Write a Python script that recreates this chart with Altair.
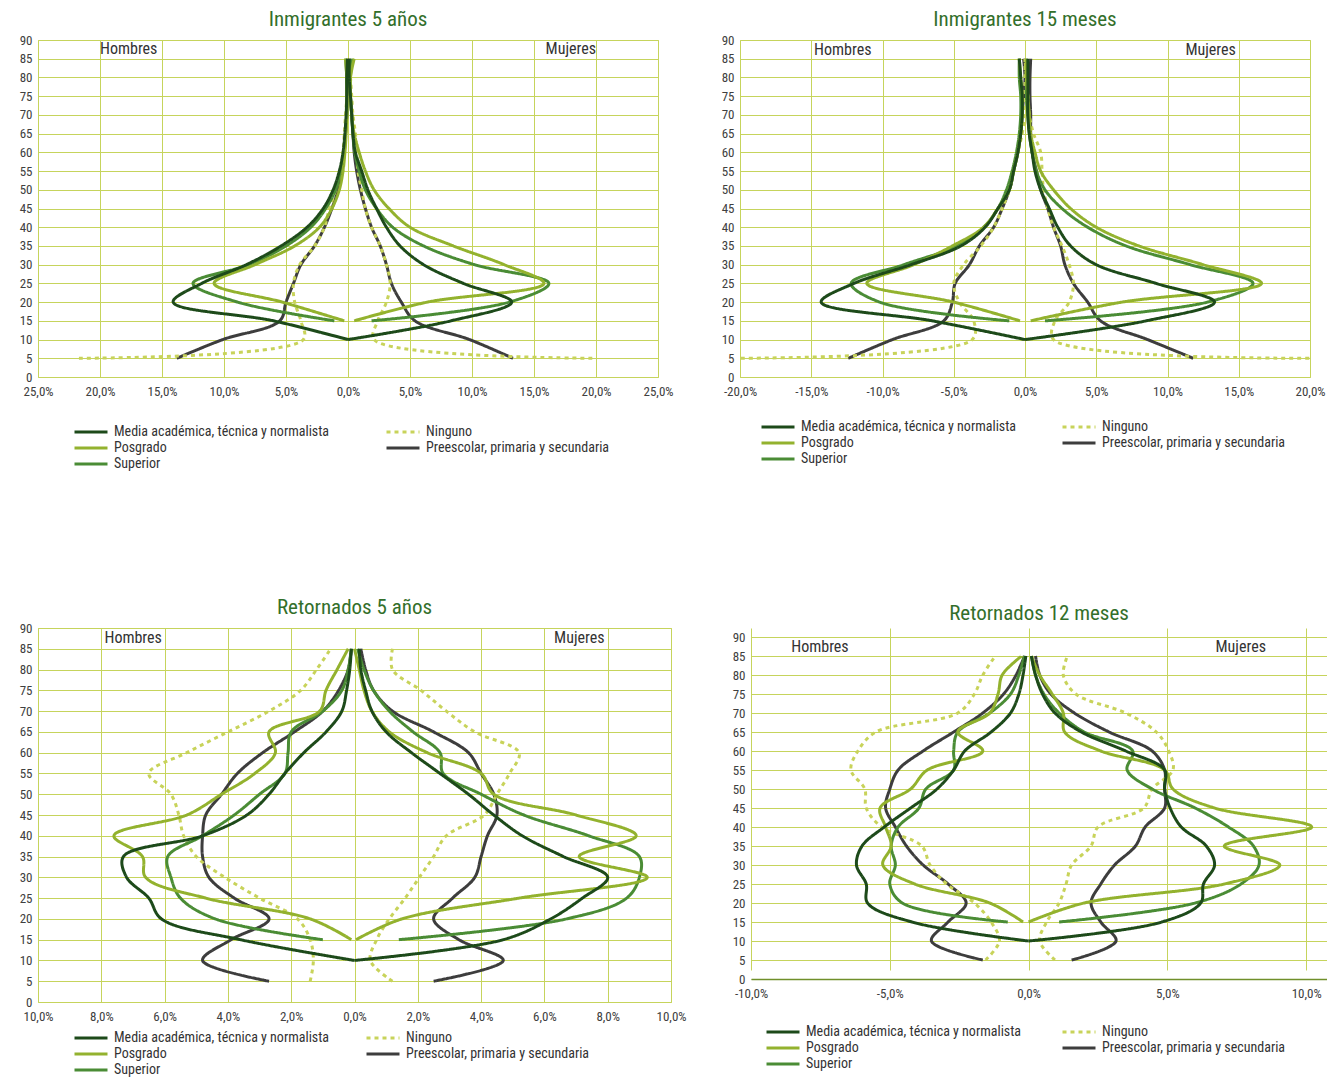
import altair as alt
import pandas as pd

FONT = "'Roboto Condensed', 'Open Sans Condensed', 'Liberation Sans Narrow', 'Liberation Sans', Arial, sans-serif"

CATS = ["Media académica, técnica y normalista", "Posgrado", "Superior", "Ninguno",
        "Preescolar, primaria y secundaria"]
COLORS = ["#1d4a1a", "#93b22e", "#4a8c35", "#c8d35a", "#3d3d3d"]
DASHES = [[1, 0], [1, 0], [1, 0], [4, 4], [1, 0]]
WIDTHS = [3.0, 3.0, 3.0, 3.2, 2.2]

AGES_MEDIA = [10, 15, 20, 25, 30, 35, 40, 45, 50, 55, 60, 65, 70, 75, 80, 85]
AGES_SUP = [15, 20, 25, 30, 35, 40, 45, 50, 55, 60, 65, 70, 75, 80, 85]
AGES_BASE = [5, 10, 15, 20, 25, 30, 35, 40, 45, 50, 55, 60, 65, 70, 75, 80, 85]

# ---------------- Inmigrantes 5 años ----------------
i5_media_h = [0, -6.0, -14.1, -11.8, -8.2, -5.4, -3.3, -2.0, -1.2, -0.7, -0.4, -0.25, -0.15, -0.1, -0.1, -0.05]
i5_media_m = [0, 8.3, 13.2, 9.3, 6.1, 4.2, 3.1, 2.3, 1.6, 1.1, 0.6, 0.4, 0.3, 0.2, 0.1, 0.1]
i5_pre_h = [-13.8, -10.1, -5.5, -5.0, -4.4, -3.8, -2.7, -1.9, -1.3, -0.8, -0.5, -0.3, -0.2, -0.1, -0.1, 0, 0]
i5_pre_m = [13.3, 9.8, 5.4, 4.3, 3.5, 3.1, 2.6, 1.9, 1.4, 1.0, 0.7, 0.5, 0.4, 0.3, 0.2, 0.1, 0.1]
i5_nin_h = [-21.7, -3.6, -3.8, -4.3, -4.4, -3.9, -2.7, -1.9, -1.5, -1.0, -0.6, -0.4, -0.3, -0.2, -0.1, -0.1, 0]
i5_nin_m = [19.7, 2.1, 2.4, 3.1, 3.4, 3.1, 2.6, 1.9, 1.4, 1.1, 0.8, 0.7, 0.6, 0.4, 0.3, 0.2, 0.1]
i5_pos_h = [-0.3, -5.3, -10.8, -7.5, -4.3, -2.3, -1.3, -0.7, -0.4, -0.25, -0.15, -0.1, -0.1, -0.1, -0.2]
i5_pos_m = [0.5, 6.4, 15.8, 12.6, 8.5, 5.0, 3.3, 2.1, 1.4, 0.9, 0.5, 0.3, 0.2, 0.2, 0.5]
i5_sup_h = [-1.1, -8.9, -12.5, -8.0, -5.0, -3.0, -1.8, -1.0, -0.6, -0.35, -0.2, -0.1, -0.1, -0.1, -0.2]
i5_sup_m = [1.9, 13.0, 16.2, 10.2, 6.1, 3.6, 2.3, 1.4, 0.9, 0.55, 0.4, 0.3, 0.2, 0.2, 0.3]

# ---------------- Inmigrantes 15 meses ----------------
i15_media_h = [0, -6.5, -14.3, -12.0, -8.0, -4.5, -2.8, -1.9, -1.1, -0.8, -0.5, -0.3, -0.2, -0.2, -0.3, -0.4]
i15_media_m = [0, 8.5, 13.3, 9.2, 5.0, 3.2, 2.3, 1.7, 1.1, 0.7, 0.5, 0.3, 0.2, 0.2, 0.2, 0.2]
i15_pre_h = [-12.4, -9.3, -5.7, -5.1, -4.9, -3.9, -3.2, -2.2, -1.6, -1.1, -0.8, -0.5, -0.3, -0.2, -0.1, 0, -0.1]
i15_pre_m = [11.8, 8.6, 5.3, 4.4, 3.4, 2.8, 2.5, 2.0, 1.6, 1.1, 0.8, 0.5, 0.4, 0.4, 0.35, 0.35, 0.4]
i15_nin_h = [-20.5, -3.7, -3.6, -4.6, -5.0, -4.3, -3.1, -2.2, -1.6, -1.1, -0.8, -0.5, -0.2, 0, 0, 0, 0]
i15_nin_m = [20.5, 2.0, 2.1, 3.1, 3.4, 3.1, 2.6, 2.0, 1.6, 1.3, 1.2, 1.1, 0.6, 0.3, 0.2, 0.1, 0]
i15_pos_h = [-0.35, -5.0, -11.1, -7.8, -5.1, -2.9, -1.9, -1.1, -0.8, -0.5, -0.3, -0.2, -0.2, -0.3, -0.4]
i15_pos_m = [0.4, 6.8, 16.6, 12.5, 8.0, 5.0, 3.2, 2.0, 1.1, 0.7, 0.4, 0.3, 0.2, 0.1, 0.1]
i15_sup_h = [-1.1, -10.2, -12.2, -8.5, -4.8, -2.9, -1.9, -1.3, -0.9, -0.6, -0.4, -0.3, -0.3, -0.4, -0.4]
i15_sup_m = [1.4, 12.8, 16.0, 11.6, 7.1, 4.4, 2.6, 1.4, 0.8, 0.5, 0.3, 0.2, 0.1, 0.1, 0.1]

# ---------------- Retornados 5 años ----------------
r5_media_h = [0, -3.6, -6.1, -6.5, -7.2, -7.3, -4.8, -3.4, -2.7, -2.2, -1.6, -0.9, -0.4, -0.25, -0.15, -0.1]
r5_media_m = [0, 4.7, 6.2, 7.2, 8.0, 6.6, 5.3, 4.4, 3.6, 2.7, 1.8, 1.0, 0.55, 0.35, 0.2, 0.15]
r5_pre_h = [-2.7, -4.8, -3.9, -2.7, -3.8, -4.6, -4.8, -4.8, -4.7, -4.2, -3.7, -2.9, -1.9, -1.0, -0.5, -0.2, -0.1]
r5_pre_m = [2.5, 4.7, 3.3, 2.5, 3.1, 3.8, 4.0, 4.2, 4.5, 4.4, 4.0, 3.6, 2.5, 1.2, 0.6, 0.35, 0.2]
r5_nin_h = [-1.4, -1.3, -1.4, -1.8, -3.0, -4.1, -5.0, -5.4, -5.55, -5.8, -6.5, -5.3, -4.0, -2.7, -1.7, -1.2, -0.75]
r5_nin_m = [1.2, 0.5, 0.7, 1.1, 1.6, 2.05, 2.5, 2.9, 4.1, 4.5, 4.9, 5.2, 3.8, 2.9, 2.1, 1.2, 1.2]
r5_pos_h = [-0.1, -1.4, -4.7, -6.6, -6.7, -7.6, -5.3, -4.2, -3.15, -2.5, -2.7, -1.1, -0.9, -0.55, -0.2]
r5_pos_m = [0.05, 1.5, 5.2, 9.25, 7.1, 8.9, 7.0, 4.4, 4.0, 2.3, 1.1, 0.55, 0.3, 0.15, 0.0]
r5_sup_h = [-1.0, -4.4, -5.5, -5.8, -5.9, -4.8, -3.8, -3.0, -2.2, -2.1, -2.0, -1.0, -0.4, -0.2, -0.1]
r5_sup_m = [1.4, 6.7, 8.6, 9.0, 9.0, 7.4, 5.35, 4.0, 2.8, 2.7, 1.85, 1.1, 0.6, 0.3, 0.1]

# ---------------- Retornados 12 meses ----------------
r12_media_h = [0, -4.2, -5.8, -5.85, -6.2, -6.0, -5.2, -4.25, -3.3, -2.7, -2.3, -1.35, -0.65, -0.35, -0.2, -0.1]
r12_media_m = [0, 4.8, 6.2, 6.3, 6.7, 6.4, 5.5, 5.1, 4.9, 4.9, 3.5, 1.9, 0.95, 0.5, 0.25, 0.1]
r12_pre_h = [-1.65, -3.5, -2.9, -2.25, -2.9, -3.8, -4.4, -4.8, -5.15, -5.0, -4.7, -3.8, -2.7, -1.65, -0.9, -0.45, -0.15]
r12_pre_m = [1.55, 3.15, 2.6, 2.25, 2.6, 3.1, 3.85, 4.2, 4.9, 4.9, 4.9, 4.45, 2.9, 1.65, 0.8, 0.4, 0.25]
r12_nin_h = [-1.55, -1.05, -1.35, -1.95, -2.95, -3.55, -3.85, -5.3, -5.85, -5.9, -6.4, -6.15, -5.5, -2.55, -1.95, -1.65, -1.2]
r12_nin_m = [0.95, 0.4, 0.65, 1.1, 1.35, 1.55, 2.25, 2.5, 4.15, 4.45, 5.2, 5.05, 4.6, 3.5, 1.7, 1.25, 1.4]
r12_pos_h = [-0.2, -1.4, -4.1, -5.25, -4.95, -5.15, -5.35, -4.25, -3.65, -1.65, -2.55, -1.4, -1.1, -0.95, -0.25]
r12_pos_m = [0.0, 2.0, 7.05, 9.05, 7.05, 10.2, 6.7, 5.2, 4.9, 2.6, 1.3, 1.25, 0.85, 0.4, 0.1]
r12_sup_h = [-0.75, -4.55, -5.0, -4.8, -4.95, -4.7, -3.95, -3.7, -2.7, -2.7, -2.55, -1.4, -0.65, -0.35, -0.15]
r12_sup_m = [1.1, 6.0, 7.65, 8.3, 8.1, 7.2, 6.0, 4.45, 3.55, 3.75, 2.0, 1.1, 0.55, 0.25, 0.1]


def build(series):
    rows = []
    for cat, ages, h, m in series:
        for sex, vals in (("Hombres", h), ("Mujeres", m)):
            for a, v in zip(ages, vals):
                rows.append({"cat": cat, "sex": sex, "age": a, "value": v})
    return pd.DataFrame(rows)


def series_for(media_h, media_m, pre_h, pre_m, nin_h, nin_m, pos_h, pos_m, sup_h, sup_m):
    return [
        (CATS[4], AGES_BASE, pre_h, pre_m),
        (CATS[3], AGES_BASE, nin_h, nin_m),
        (CATS[2], AGES_SUP, sup_h, sup_m),
        (CATS[1], AGES_SUP, pos_h, pos_m),
        (CATS[0], AGES_MEDIA, media_h, media_m),
    ]


GRID = "#c6d45c"
ABS_EXPR = "replace(format(abs(datum.value), '.1f'), '.', ',') + '%'"
SIGNED_EXPR = "(datum.value < 0 ? '-' : '') + replace(format(abs(datum.value), '.1f'), '.', ',') + '%'"


def legend(lx, ly, colpad):
    return alt.Legend(title=None, orient="none", legendX=lx, legendY=ly, columns=2,
                      columnPadding=colpad, rowPadding=2, labelFont=FONT, labelFontSize=14,
                      labelColor="#333333", labelLimit=400, symbolType="M-3.3,0H3.3",
                      symbolSize=100, symbolStrokeWidth=2.5, labelOffset=16)


def panel(df, title, domain, ticks, label_expr, width, height, legend_x, legend_y,
          col_pad, tag_x, tag_y, top_gap=0, bottom_line=False):
    x_axis = dict(values=ticks, labelExpr=label_expr, title=None, ticks=False,
                  labelPadding=8, labelFontSize=13, labelColor="#404040",
                  labelFont=FONT, gridColor=GRID, labelOverlap=False, labelFlush=False)
    if bottom_line:
        x_axis.update(domain=True, domainColor="#6f8f2a", domainWidth=1.5)
    else:
        x_axis.update(domain=False)
    x = alt.X("value:Q",
              scale=alt.Scale(domain=domain, nice=False, zero=False),
              axis=alt.Axis(**x_axis))
    y_scale = alt.Scale(domain=[0, 90], nice=False)
    if top_gap:
        y_scale = alt.Scale(domain=[0, 90], nice=False, range=[height, top_gap])
    y = alt.Y("age:Q", scale=y_scale,
              axis=alt.Axis(values=list(range(0, 95, 5)), title=None, ticks=False, domain=False,
                            labelPadding=6, labelFontSize=13, labelColor="#404040",
                            labelFont=FONT, gridColor=GRID, labelOverlap=False,
                            labelFlush=False))
    lines = alt.Chart(df).mark_line(interpolate="catmull-rom", clip=True, strokeCap="butt").encode(
        x=x, y=y,
        color=alt.Color("cat:N", scale=alt.Scale(domain=CATS, range=COLORS),
                        legend=legend(legend_x, legend_y, col_pad)),
        strokeDash=alt.StrokeDash("cat:N", scale=alt.Scale(domain=CATS, range=DASHES),
                                  legend=legend(legend_x, legend_y, col_pad)),
        strokeWidth=alt.StrokeWidth("cat:N", scale=alt.Scale(domain=CATS, range=WIDTHS),
                                    legend=None),
        detail="sex:N",
        order="age:Q",
    )
    tags_l = alt.Chart(pd.DataFrame({"t": ["Hombres"], "value": [-tag_x], "age": [tag_y]})).mark_text(
        align="left", baseline="middle", font=FONT, fontSize=16, color="#333333").encode(
        x=x, y=y, text="t:N")
    tags_r = alt.Chart(pd.DataFrame({"t": ["Mujeres"], "value": [tag_x], "age": [tag_y]})).mark_text(
        align="right", baseline="middle", font=FONT, fontSize=16, color="#333333").encode(
        x=x, y=y, text="t:N")
    props = dict(
        width=width, height=height,
        title=alt.TitleParams(title, fontSize=21, font=FONT, color="#336f2b",
                              fontWeight="normal", anchor="middle", offset=4),
    )
    if top_gap:
        props["view"] = alt.ViewBackground(strokeOpacity=0)
    return alt.layer(lines, tags_l, tags_r).properties(**props)


p1 = panel(build(series_for(i5_media_h, i5_media_m, i5_pre_h, i5_pre_m, i5_nin_h, i5_nin_m,
                            i5_pos_h, i5_pos_m, i5_sup_h, i5_sup_m)),
           "Inmigrantes 5 años", [-25, 25], list(range(-25, 30, 5)), ABS_EXPR,
           620, 337, 46, 385, 50, 20, 87.5)
p2 = panel(build(series_for(i15_media_h, i15_media_m, i15_pre_h, i15_pre_m, i15_nin_h, i15_nin_m,
                            i15_pos_h, i15_pos_m, i15_sup_h, i15_sup_m)),
           "Inmigrantes 15 meses", [-20, 20], list(range(-20, 25, 5)), SIGNED_EXPR,
           570, 337, 31, 380, 39, 14.8, 87.3)
p3 = panel(build(series_for(r5_media_h, r5_media_m, r5_pre_h, r5_pre_m, r5_nin_h, r5_nin_m,
                            r5_pos_h, r5_pos_m, r5_sup_h, r5_sup_m)),
           "Retornados 5 años", [-10, 10], list(range(-10, 12, 2)), ABS_EXPR,
           633, 374, 46, 403, 30, 7.9, 87.5)
p4 = panel(build(series_for(r12_media_h, r12_media_m, r12_pre_h, r12_pre_m, r12_nin_h, r12_nin_m,
                            r12_pos_h, r12_pos_m, r12_sup_h, r12_sup_m)),
           "Retornados 12 meses", [-10, 10.75], [-10, -5, 0, 5, 10], SIGNED_EXPR,
           576, 351, 25, 397, 34, 8.55, 87.5, top_gap=9, bottom_line=True)

RES = dict(color="independent", strokeDash="independent", strokeWidth="independent",
           x="independent", y="independent")

row1 = alt.hconcat(p1, p2, spacing=46).resolve_scale(**RES)
row2 = alt.hconcat(p3, p4, spacing=45).resolve_scale(**RES)

chart = alt.vconcat(row1, row2, spacing=124).resolve_scale(**RES).properties(
    padding={"left": 10, "top": 0, "right": 0, "bottom": 0}
).configure_view(stroke=GRID, strokeWidth=1).configure_axis(gridWidth=1)

chart.save("out.html", embed_options={"renderer": "svg", "actions": False})
